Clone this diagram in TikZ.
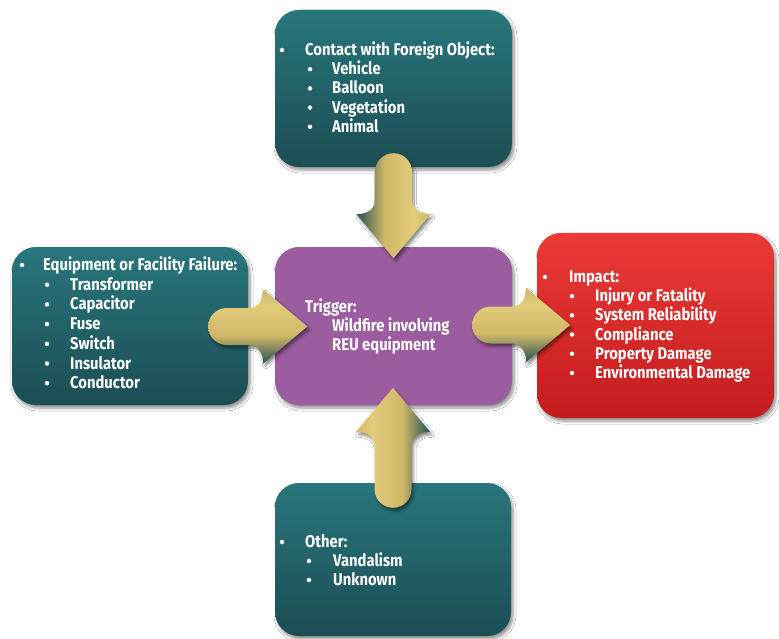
\documentclass[tikz,border=0pt]{standalone}
\usepackage{fontspec}
\newfontfamily\boxfont{Fira Sans}[FakeStretch=0.87]
\usetikzlibrary{calc,shadows.blur}
\definecolor{tealtop}{RGB}{40,118,123}
\definecolor{tealbot}{RGB}{27,77,84}
\definecolor{purplebox}{RGB}{155,92,160}
\definecolor{redtop}{RGB}{234,58,54}
\definecolor{redbot}{RGB}{196,28,30}
\definecolor{gold}{RGB}{208,184,104}
\definecolor{goldlight}{RGB}{226,204,124}
\definecolor{arrowdark}{RGB}{38,82,82}
\pgfdeclarehorizontalshading{arrDL}{100bp}{color(0bp)=(arrowdark); color(25bp)=(arrowdark); color(44bp)=(gold); color(64bp)=(goldlight); color(75bp)=(gold); color(100bp)=(gold)}
\pgfdeclarehorizontalshading{arrDR}{100bp}{color(0bp)=(gold); color(25bp)=(gold); color(36bp)=(goldlight); color(56bp)=(gold); color(75bp)=(arrowdark); color(100bp)=(arrowdark)}
\pgfdeclareverticalshading{arrDB}{100bp}{color(0bp)=(arrowdark); color(25bp)=(arrowdark); color(44bp)=(gold); color(64bp)=(goldlight); color(75bp)=(gold); color(100bp)=(gold)}
\newcommand\blockarrow[4]{%
  \begin{scope}[shift={#1},rotate=#2]
    \path[arrowstyle,#4] (18.5,-18.5) -- ({#3-44-14},-18.5)
      .. controls ({#3-44-3},-18.5) and ({#3-44},-30) .. ({#3-44},-37)
      -- (#3,0) -- ({#3-44},37)
      .. controls ({#3-44},30) and ({#3-44-3},18.5) .. ({#3-44-14},18.5)
      -- (18.5,18.5) .. controls (8.3,18.5) and (0,10.2) .. (0,0)
      .. controls (0,-10.2) and (8.3,-18.5) .. (18.5,-18.5) -- cycle;
  \end{scope}}
\begin{document}
\begin{tikzpicture}[x=1pt,y=-1pt,
  box/.style={rounded corners=24pt, inner sep=0pt,
    blur shadow={shadow xshift=2pt, shadow yshift=-3pt, shadow blur steps=6, shadow blur radius=3pt, shadow opacity=45}},
  tealbox/.style={box, top color=tealtop, bottom color=tealbot},
  arrowstyle/.style={blur shadow={shadow xshift=2pt, shadow yshift=-3pt, shadow blur steps=5, shadow blur radius=2.5pt, shadow opacity=45}},
  txt/.style={anchor=base west, inner sep=0pt, text=white, font=\boxfont\bfseries\fontsize{17}{19}\selectfont},
  bul/.style={circle, fill=white, minimum size=4.5pt, inner sep=0pt}]
\useasboundingbox[fill=white] (0,0) rectangle (779,639);

% boxes
\node[tealbox, minimum width=237pt, minimum height=157pt] (top) at (393.5,88.5) {};
\node[tealbox, minimum width=236pt, minimum height=158pt] (left) at (130,326) {};
\node[box, fill=purplebox, minimum width=237pt, minimum height=158pt] (center) at (393.5,326) {};
\node[box, top color=redtop, bottom color=redbot, minimum width=237pt, minimum height=185pt] (right) at (655.5,325.5) {};
\node[tealbox, minimum width=236pt, minimum height=153pt] (bottom) at (393,559.5) {};

% arrows
\blockarrow{($(top.south)+(0,-14)$)}{-90}{105}{shading=arrDL}
\blockarrow{($(left.east)+(-40,0.5)$)}{0}{99}{shading=arrDB}
\blockarrow{($(bottom.north)+(0,25)$)}{90}{120}{shading=arrDR}
\blockarrow{($(center.east)+(-40,-1)$)}{0}{98}{shading=arrDB}

% top box text
\node[bul] (tb0) at (282,50) {};
\node[txt] (tt0) at (305,55.5) {Contact with Foreign Object:};
\foreach \t [count=\i] in {Vehicle,Balloon,Vegetation,Animal}{
  \node[bul] (tb\i) at (310,{50+19.2*\i}) {};
  \node[txt] (tt\i) at (332,{55.5+19.2*\i}) {\t};
}

% left box text
\node[bul] (lb0) at (22,265) {};
\node[txt] (lt0) at (43,270.5) {Equipment or Facility Failure:};
\foreach \t [count=\i] in {Transformer,Capacitor,Fuse,Switch,Insulator,Conductor}{
  \node[bul] (lb\i) at (47,{265+19.7*\i}) {};
  \node[txt] (lt\i) at (70,{270.5+19.7*\i}) {\t};
}

% center text
\node[txt] (ct0) at (305,312.5) {Trigger:};
\node[txt] (ct1) at (332,331.5) {Wildfire involving};
\node[txt] (ct2) at (332,350.5) {REU equipment};

% right box text
\node[bul] (rb0) at (545,277) {};
\node[txt] (rt0) at (569,282.5) {Impact:};
\foreach \t [count=\i] in {Injury or Fatality,System Reliability,Compliance,Property Damage,Environmental Damage}{
  \node[bul] (rb\i) at (572,{277+19.2*\i}) {};
  \node[txt] (rt\i) at (595,{282.5+19.2*\i}) {\t};
}

% bottom box text
\node[bul] (bb0) at (282,542) {};
\node[txt] (bt0) at (305,547.5) {Other:};
\foreach \t [count=\i] in {Vandalism,Unknown}{
  \node[bul] (bb\i) at (309,{542+19*\i}) {};
  \node[txt] (bt\i) at (333,{547.5+19*\i}) {\t};
}
\end{tikzpicture}
\end{document}
